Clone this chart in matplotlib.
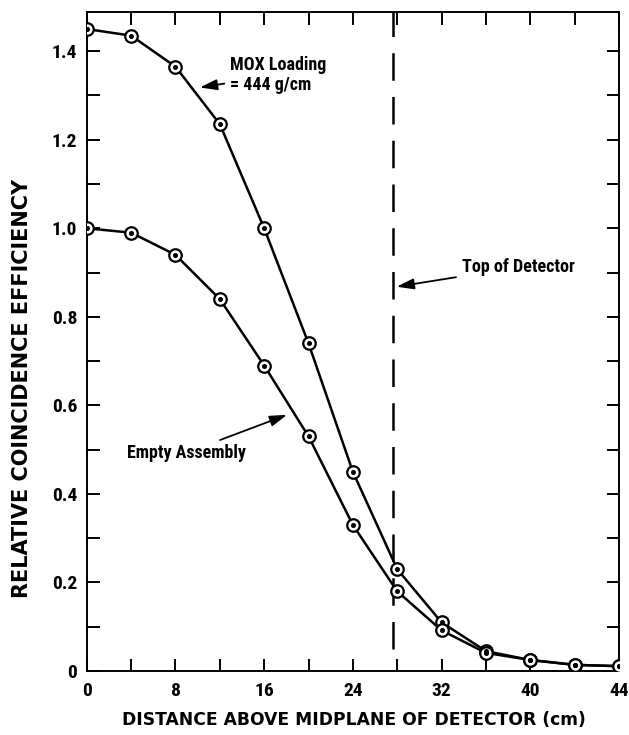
# relative coincidence efficiency vs. distance above detector midplane

import matplotlib
matplotlib.use("Agg")
import matplotlib.pyplot as plt

# measured points (cm, relative efficiency)
dist = [0, 4, 8, 12, 16, 20, 24, 28, 32, 36, 40, 44, 48]
eff_mox = [1.45, 1.435, 1.365, 1.235, 1.0, 0.74, 0.45, 0.23, 0.11, 0.045, 0.025, 0.014, 0.011]
eff_empty = [1.0, 0.99, 0.94, 0.84, 0.69, 0.53, 0.33, 0.18, 0.092, 0.041, 0.025, 0.014, 0.011]

top_of_detector = 27.6

xtick_pos = [0, 8, 16, 24, 32, 40, 48]
xtick_lbl = ["0", "8", "16", "24", "32", "40", "44"]
ytick_pos = [0, 0.2, 0.4, 0.6, 0.8, 1.0, 1.2, 1.4]
ytick_lbl = ["0", "0.2", "0.4", "0.6", "0.8", "1.0", "1.2", "1.4"]

plt.rcParams["font.family"] = ["Roboto Condensed", "Liberation Sans"]
plt.rcParams["font.weight"] = "bold"

fig = plt.figure(figsize=(6.29, 7.35), dpi=100)
ax = fig.add_axes([0.138, 0.087, 0.846, 0.897])

for y in (eff_mox, eff_empty):
    ax.plot(dist, y, "-", color="black", lw=1.8, zorder=2)
    ax.plot(dist, y, "o", ms=9, mfc="white", mec="black", mew=1.6, zorder=3)
    ax.plot(dist, y, "o", ms=2.6, color="black", zorder=4)

# top of detector marker
ax.plot([top_of_detector, top_of_detector], [0.05, 1.49], color="black",
        lw=1.8, dashes=(11, 6.5), zorder=1)

ax.set_xlim(0, 48)
ax.set_ylim(0, 1.489)
ax.set_xticks(xtick_pos)
ax.set_xticklabels(xtick_lbl)
ax.set_xticks(range(0, 49, 4), minor=True)
ax.set_yticks(ytick_pos)
ax.set_yticklabels(ytick_lbl)
ax.set_yticks([i / 10 for i in range(0, 15)], minor=True)
ax.tick_params(which="both", direction="in", top=True, right=True,
               width=1.4, length=9, labelsize=14)
ax.tick_params(axis="x", pad=8)
ax.tick_params(axis="y", pad=7)
for s in ax.spines.values():
    s.set_linewidth(1.4)

arrow = dict(arrowstyle="-|>,head_length=0.8,head_width=0.25", color="black", lw=1.3)
ax.annotate("MOX Loading\n= 444 g/cm", xy=(9.95, 1.317), xytext=(12.9, 1.346),
            fontsize=13, ha="left", va="center", linespacing=1.1,
            arrowprops=arrow)
ax.annotate("Top of Detector", xy=(27.7, 0.867), xytext=(33.8, 0.912),
            fontsize=13, ha="left", va="center", arrowprops=arrow)
ax.annotate("Empty Assembly", xy=(18.3, 0.581), xytext=(3.6, 0.493),
            fontsize=13, ha="left", va="center", arrowprops=arrow)

fig.text(0.035, 0.472, "RELATIVE COINCIDENCE EFFICIENCY", rotation=90,
         ha="center", va="center", fontsize=15, family="DejaVu Sans")
fig.text(0.563, 0.02, "DISTANCE ABOVE MIDPLANE OF DETECTOR (cm)",
         ha="center", va="center", fontsize=12.3, family="DejaVu Sans")

fig.savefig("out.png", dpi=100)
